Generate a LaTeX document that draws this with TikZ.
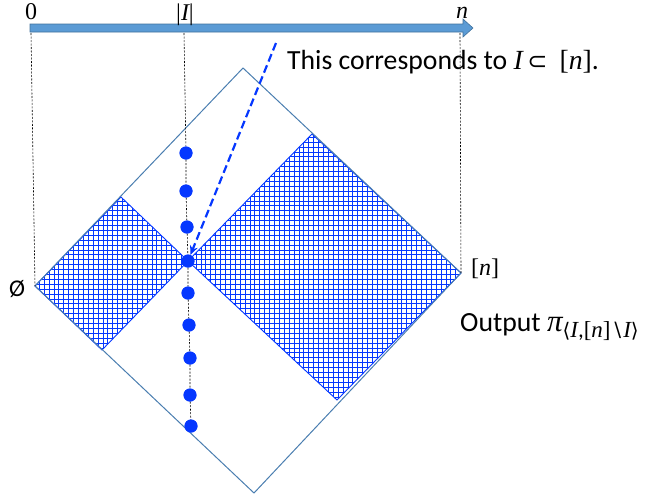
\documentclass[tikz,border=0pt]{standalone}
\usepackage{fontspec}
\setmainfont{Carlito}
\newfontfamily\mserif{Liberation Serif}
\newfontfamily\msym{DejaVu Sans}
\newcommand\mi[1]{{\mserif\itshape #1}}
\newcommand\mr[1]{{\mserif #1}}
\usetikzlibrary{arrows.meta}
\definecolor{axisfill}{RGB}{91,155,213}
\definecolor{axisline}{RGB}{65,113,156}
\definecolor{edgeblue}{RGB}{74,126,176}
\definecolor{vivid}{RGB}{5,55,255}
\begin{document}
\begin{tikzpicture}[x=1pt,y=-1pt,
  dot/.style={circle, fill=vivid, inner sep=0pt, minimum size=13pt},
  guide/.style={black, dash pattern=on 2pt off 1.5pt, line width=0.6pt},
  edge/.style={draw=edgeblue, line width=1pt},
  hatchout/.style={draw=vivid, line width=0.9pt},
  hatchgrid/.style={vivid, line width=0.65pt},
  lbl/.style={font=\fontsize{24}{27}\selectfont, inner sep=0pt},
  txt/.style={font=\fontsize{27.7}{32}\selectfont, inner sep=0pt}]
\useasboundingbox (0,0) rectangle (649,499);
% corners
\coordinate (L) at (35,286);
\coordinate (T) at (243,68);
\coordinate (R) at (461,273);
\coordinate (B) at (254,493);
\coordinate (C) at (188,261);
\coordinate (LT) at (121,197);
\coordinate (LB) at (102,350);
\coordinate (RT) at (312,134);
\coordinate (RB) at (337,400);
% hatched regions
\begin{scope}
\clip (L)--(LT)--(C)--(LB)--cycle;
\draw[hatchgrid, step=4.9pt] (0,150) grid (200,400);
\end{scope}
\begin{scope}
\clip (C)--(RT)--(R)--(RB)--cycle;
\draw[hatchgrid, step=4.9pt] (150,100) grid (480,420);
\end{scope}
\draw[hatchout] (L)--(LT)--(C)--(LB)--cycle;
\draw[hatchout] (C)--(RT)--(R)--(RB)--cycle;
% big diamond
\draw[edge] (T)--(R)--(B)--(L)--cycle;
% dots
\node[dot] (d1) at (186,153) {};
\node[dot] (d2) at (186,191) {};
\node[dot] (d3) at (187,227) {};
\node[dot] (d4) at (C) {};
\node[dot] (d5) at (188,293) {};
\node[dot] (d6) at (189,325) {};
\node[dot] (d7) at (190,358) {};
\node[dot] (d8) at (190,395) {};
\node[dot] (d9) at (191,426) {};
% guides
\coordinate (g0) at (31,33);
\coordinate (gI) at (184,33);
\coordinate (gn) at (460,33);
\draw[guide] (g0) -- (L);
\draw[guide] (gn) -- (R);
\draw[guide] (gI) -- (d1) -- (d2) -- (d3) -- (d4) -- (d5) -- (d6) -- (d7) -- (d8) -- (d9);
\foreach \i in {1,...,9} {\fill[vivid] (d\i) circle (6.5pt);}
% pointer
\coordinate (ptr) at (276,43);
\draw[vivid, line width=2.2pt, dash pattern=on 8pt off 4pt, -{Stealth[length=9pt,width=8pt]}] (ptr) -- (d4);
% axis
\fill[axisfill, draw=axisline, line width=0.6pt]
  (30,24) -- (463,24) -- (463,19) -- (473,28) -- (463,37) -- (463,32) -- (30,32) -- cycle;
% labels
\node[lbl] (l0) at (31,12) {\mr{0}};
\node[lbl] (lI) at (185,15) {\mr{|}\mi{I}\mr{|}};
\node[lbl] (ln) at (462,13) {\mi{n}};
\node[lbl, anchor=west] (lset) at (471,269) {\mr{[}\mi{n}\mr{]}};
\node[lbl] (lempty) at (17,289) {Ø};
\node[txt, anchor=base west] (t1) at (287,69)
  {This corresponds to \mi{I}\,{\fontsize{24}{28}\selectfont\msym ⊂}\hspace{12pt}\mr{[}\mi{n}\mr{]}.};
\node[txt, anchor=base west] (t2) at (460,331)
  {Output \mi{\fontsize{31}{32}\selectfont π}\raisebox{-6pt}{\fontsize{23}{25}\selectfont{\msym\fontsize{20}{22}\selectfont ⟨}\mi{I},\mr{[}\mi{n}\mr{]}{\msym\fontsize{20}{22}\selectfont ∖}\mi{I}{\msym\fontsize{20}{22}\selectfont ⟩}}};
\end{tikzpicture}
\end{document}
